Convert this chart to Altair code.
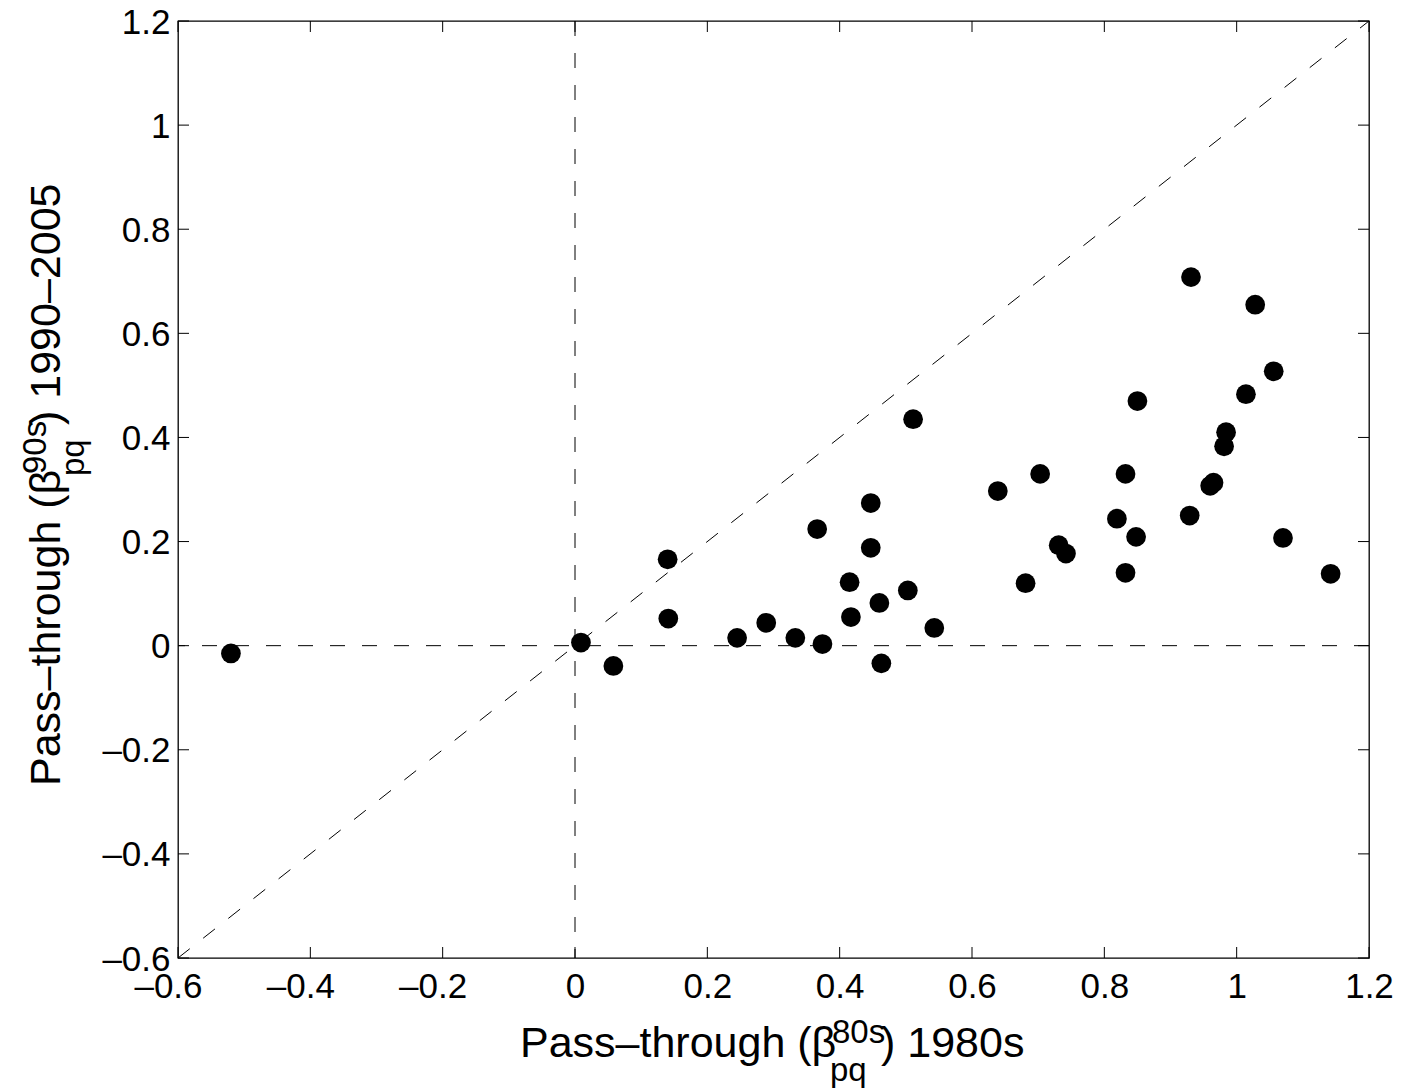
import altair as alt
import pandas as pd

# Data
pass_80s = [-0.520, 0.009, 0.058, 0.140, 0.141, 0.245, 0.289, 0.333, 0.366, 0.374,
            0.415, 0.417, 0.447, 0.447, 0.460, 0.463, 0.511, 0.503, 0.543, 0.639,
            0.681, 0.703, 0.731, 0.742, 0.819, 0.832, 0.832, 0.848, 0.850, 0.929,
            0.931, 0.960, 0.965, 0.981, 0.984, 1.014, 1.028, 1.056, 1.070, 1.142]
pass_90s = [-0.015, 0.006, -0.039, 0.166, 0.052, 0.015, 0.044, 0.015, 0.224, 0.003,
            0.122, 0.055, 0.274, 0.188, 0.082, -0.034, 0.435, 0.106, 0.034, 0.297,
            0.120, 0.330, 0.193, 0.177, 0.244, 0.330, 0.140, 0.209, 0.470, 0.250,
            0.708, 0.307, 0.313, 0.383, 0.410, 0.483, 0.655, 0.527, 0.207, 0.138]
tick_values = [-0.6, -0.4, -0.2, 0, 0.2, 0.4, 0.6, 0.8, 1, 1.2]
axis_range = [-0.6, 1.2]
diag = [-0.6, 1.2]

W, H = 1191, 937
FONT = "Liberation Sans"
TICK = 11

pts = pd.DataFrame({"x": pass_80s, "y": pass_90s})
ticks_df = pd.DataFrame({"v": tick_values})
zero_df = pd.DataFrame({"v": [0]})
diag_df = pd.DataFrame({"x": diag, "y": diag})

xs = alt.Scale(domain=axis_range, nice=False, zero=False)
ys = alt.Scale(domain=axis_range, nice=False, zero=False)
lab = "datum.value < 0 ? '\u2013' + format(-datum.value, '.1~f') : format(datum.value, '.1~f')"
xaxis = alt.Axis(values=tick_values, labelExpr=lab, title=None, grid=False, domain=False,
                 ticks=False, labelFontSize=35, labelFont=FONT, labelColor="black",
                 labelPadding=11, labelFlush=False, labelOverlap=False,
                 labelOffset={"condition": {"test": "datum.value < 0", "value": -10}, "value": 0})
yaxis = alt.Axis(values=tick_values, labelExpr=lab, title=None, grid=False, domain=False,
                 ticks=False, labelFontSize=35, labelFont=FONT, labelColor="black",
                 labelPadding=8, labelFlush=False, labelOverlap=False, labelOffset=1)

def X(f):
    return alt.X(f, type="quantitative", scale=xs, axis=xaxis)

def Y(f):
    return alt.Y(f, type="quantitative", scale=ys, axis=yaxis)

dash = dict(color="black", strokeWidth=1, strokeDash=[15, 17])

vline = alt.Chart(zero_df).mark_rule(**dash).encode(x=X("v"))
hline = alt.Chart(zero_df).mark_rule(**dash).encode(y=Y("v"))
dline = alt.Chart(diag_df).mark_line(**dash).encode(x=X("x"), y=Y("y"))

tk = dict(color="black", strokeWidth=1)
t_left = alt.Chart(ticks_df).mark_rule(**tk).encode(y=Y("v"), x=alt.value(0), x2=alt.value(TICK))
t_right = alt.Chart(ticks_df).mark_rule(**tk).encode(y=Y("v"), x=alt.value(W - TICK), x2=alt.value(W))
t_bot = alt.Chart(ticks_df).mark_rule(**tk).encode(x=X("v"), y=alt.value(H - TICK), y2=alt.value(H))
t_top = alt.Chart(ticks_df).mark_rule(**tk).encode(x=X("v"), y=alt.value(0), y2=alt.value(TICK))

points = alt.Chart(pts).mark_point(filled=True, shape="circle", size=390, color="black",
                                   opacity=1).encode(x=X("x"), y=Y("y"))

def txt(s, x, y, size, angle=0):
    return alt.Chart(pd.DataFrame({"t": [s]})).mark_text(
        font=FONT, fontSize=size, color="black", align="left", baseline="alphabetic",
        angle=angle).encode(text="t:N", x=alt.value(x), y=alt.value(y))

# x-axis title (view coordinates: page x - 178, page y - 21)
XB = 1036
x0 = 342
xt = [
    txt("Pass\u2013through (\u03b2", x0, XB, 43),
    txt("80s", x0 + 312, XB - 14, 33),
    txt("pq", x0 + 310, XB + 24, 33),
    txt(") 1980s", x0 + 361, XB, 43),
]
# y-axis title, rotated
YB = 60 - 178
y0 = 786 - 21
yt = [
    txt("Pass\u2013through (\u03b2", YB, y0, 43, 270),
    txt("90s", YB - 14, y0 - 312, 33, 270),
    txt("pq", YB + 24, y0 - 310, 33, 270),
    txt(") 1990\u20132005", YB, y0 - 361, 43, 270),
]

chart = alt.layer(vline, hline, dline, t_left, t_right, t_bot, t_top, points, *xt, *yt).properties(
    width=W, height=H,
    padding={"left": 170, "top": 13, "right": 30, "bottom": 130},
    autosize=alt.AutoSizeParams(type="none"),
    background="white",
).configure_view(stroke="black", strokeWidth=1.3)

chart.save("out.html", embed_options={"renderer": "svg", "actions": False})
